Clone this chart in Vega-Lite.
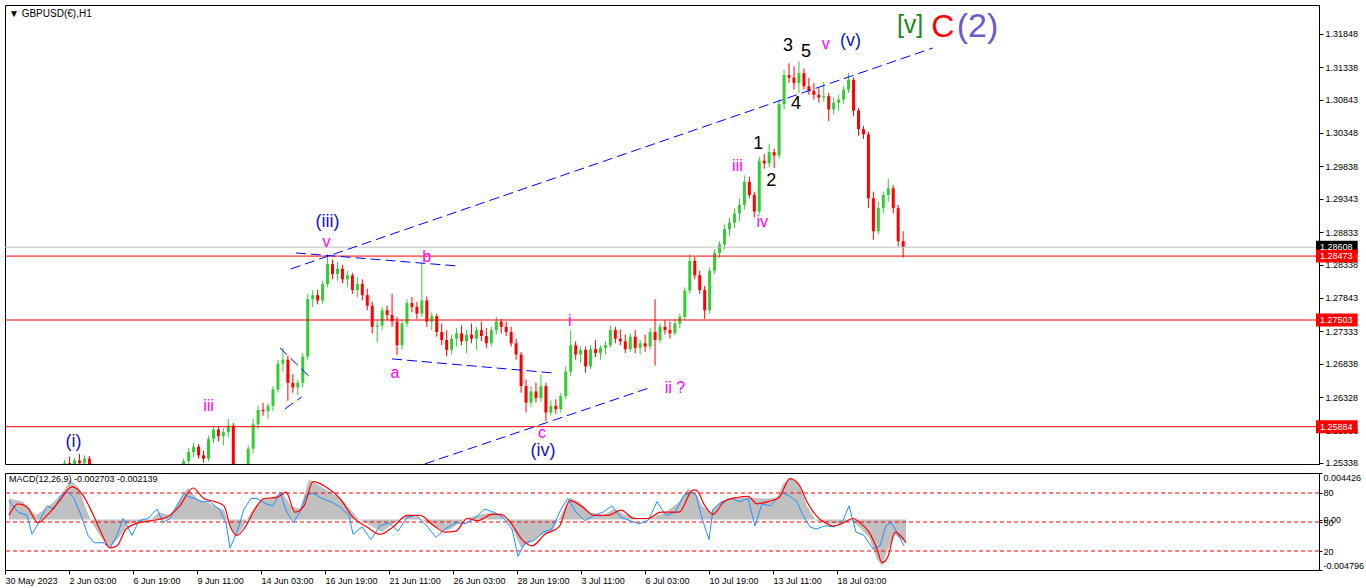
{
"$schema": "https://vega.github.io/schema/vega-lite/v6.json",
"background": "white",
"padding": {"left": 4, "top": 4, "right": 0, "bottom": 0},
"spacing": 3,
"config": {
 "view": {"stroke": "#000", "strokeWidth": 1},
 "axis": {"labelFont": "Liberation Sans", "labelFontSize": 9, "labelColor": "#000", "domainColor": "#000", "tickColor": "#000", "grid": false, "title": null, "labelOverlap": false}
},
"datasets": {
 "candles": [
  {"i":0,"o":1.2490,"h":1.2498,"l":1.2484,"c":1.2494},
  {"i":5,"o":1.2494,"h":1.2503,"l":1.2488,"c":1.2500},
  {"i":10,"o":1.2500,"h":1.2506,"l":1.2490,"c":1.2495},
  {"i":15,"o":1.2495,"h":1.2502,"l":1.2486,"c":1.2490},
  {"i":20,"o":1.2490,"h":1.2499,"l":1.2482,"c":1.2496},
  {"i":25,"o":1.2496,"h":1.2508,"l":1.2492,"c":1.2505},
  {"i":30,"o":1.2505,"h":1.2514,"l":1.2500,"c":1.2510},
  {"i":35,"o":1.2510,"h":1.2518,"l":1.2503,"c":1.2507},
  {"i":40,"o":1.2507,"h":1.2516,"l":1.2500,"c":1.2514},
  {"i":45,"o":1.2514,"h":1.2522,"l":1.2508,"c":1.2519},
  {"i":50,"o":1.2519,"h":1.2527,"l":1.2512,"c":1.2524},
  {"i":55,"o":1.2524,"h":1.2538,"l":1.2518,"c":1.2533},
  {"i":60,"o":1.2533,"h":1.2543,"l":1.2526,"c":1.2530},
  {"i":65,"o":1.2530,"h":1.2541,"l":1.2522,"c":1.2537},
  {"i":70,"o":1.2537,"h":1.2547,"l":1.2528,"c":1.2533},
  {"i":75,"o":1.2533,"h":1.2545,"l":1.2525,"c":1.2540},
  {"i":80,"o":1.2540,"h":1.2544,"l":1.2518,"c":1.2522},
  {"i":85,"o":1.2522,"h":1.2528,"l":1.2505,"c":1.2510},
  {"i":90,"o":1.2510,"h":1.2515,"l":1.2495,"c":1.2500},
  {"i":95,"o":1.2500,"h":1.2506,"l":1.2488,"c":1.2492},
  {"i":100,"o":1.2492,"h":1.2498,"l":1.2478,"c":1.2484},
  {"i":105,"o":1.2484,"h":1.2490,"l":1.2470,"c":1.2476},
  {"i":110,"o":1.2476,"h":1.2484,"l":1.2466,"c":1.2480},
  {"i":115,"o":1.2480,"h":1.2488,"l":1.2470,"c":1.2474},
  {"i":120,"o":1.2474,"h":1.2482,"l":1.2465,"c":1.2478},
  {"i":125,"o":1.2478,"h":1.2490,"l":1.2472,"c":1.2486},
  {"i":130,"o":1.2486,"h":1.2494,"l":1.2478,"c":1.2482},
  {"i":135,"o":1.2482,"h":1.2492,"l":1.2476,"c":1.2488},
  {"i":140,"o":1.2488,"h":1.2498,"l":1.2482,"c":1.2494},
  {"i":145,"o":1.2494,"h":1.2502,"l":1.2486,"c":1.2491},
  {"i":150,"o":1.2491,"h":1.2500,"l":1.2484,"c":1.2497},
  {"i":155,"o":1.2497,"h":1.2508,"l":1.2490,"c":1.2504},
  {"i":160,"o":1.2504,"h":1.2512,"l":1.2496,"c":1.2508},
  {"i":165,"o":1.2508,"h":1.2518,"l":1.2500,"c":1.2514},
  {"i":170,"o":1.2514,"h":1.2524,"l":1.2508,"c":1.2520},
  {"i":175,"o":1.2520,"h":1.2540,"l":1.2516,"c":1.2536},
  {"i":180,"o":1.2536,"h":1.2556,"l":1.2530,"c":1.2550},
  {"i":185,"o":1.2550,"h":1.2564,"l":1.2542,"c":1.2558},
  {"i":190,"o":1.2558,"h":1.2562,"l":1.2540,"c":1.2545},
  {"i":195,"o":1.2545,"h":1.2552,"l":1.2534,"c":1.2540},
  {"i":200,"o":1.2540,"h":1.2575,"l":1.2536,"c":1.2570},
  {"i":205,"o":1.2570,"h":1.2590,"l":1.2564,"c":1.2584},
  {"i":210,"o":1.2584,"h":1.2588,"l":1.2566,"c":1.2574},
  {"i":215,"o":1.2574,"h":1.2586,"l":1.2560,"c":1.2580},
  {"i":220,"o":1.2580,"h":1.2600,"l":1.2572,"c":1.2590},
  {"i":225,"o":1.2590,"h":1.2594,"l":1.2510,"c":1.2518},
  {"i":230,"o":1.2518,"h":1.2525,"l":1.2495,"c":1.2505},
  {"i":235,"o":1.2505,"h":1.2520,"l":1.2498,"c":1.2515},
  {"i":240,"o":1.2515,"h":1.2560,"l":1.2510,"c":1.2555},
  {"i":245,"o":1.2555,"h":1.2600,"l":1.2548,"c":1.2592},
  {"i":250,"o":1.2592,"h":1.2620,"l":1.2585,"c":1.2614},
  {"i":255,"o":1.2614,"h":1.2625,"l":1.2605,"c":1.2612},
  {"i":260,"o":1.2612,"h":1.2624,"l":1.2600,"c":1.2620},
  {"i":265,"o":1.2620,"h":1.2650,"l":1.2612,"c":1.2645},
  {"i":270,"o":1.2645,"h":1.2690,"l":1.2640,"c":1.2684},
  {"i":275,"o":1.2684,"h":1.2708,"l":1.2672,"c":1.2690},
  {"i":280,"o":1.2690,"h":1.2696,"l":1.2628,"c":1.2655},
  {"i":285,"o":1.2655,"h":1.2668,"l":1.2640,"c":1.2648},
  {"i":290,"o":1.2648,"h":1.2660,"l":1.2636,"c":1.2655},
  {"i":295,"o":1.2655,"h":1.2700,"l":1.2648,"c":1.2695},
  {"i":300,"o":1.2695,"h":1.2790,"l":1.2690,"c":1.2782},
  {"i":305,"o":1.2782,"h":1.2795,"l":1.2770,"c":1.2788},
  {"i":310,"o":1.2788,"h":1.2796,"l":1.2774,"c":1.2780},
  {"i":315,"o":1.2780,"h":1.2810,"l":1.2775,"c":1.2805},
  {"i":320,"o":1.2805,"h":1.2850,"l":1.2800,"c":1.2835},
  {"i":325,"o":1.2835,"h":1.2842,"l":1.2812,"c":1.2820},
  {"i":330,"o":1.2820,"h":1.2838,"l":1.2810,"c":1.2828},
  {"i":335,"o":1.2828,"h":1.2834,"l":1.2806,"c":1.2812},
  {"i":340,"o":1.2812,"h":1.2825,"l":1.2800,"c":1.2818},
  {"i":345,"o":1.2818,"h":1.2822,"l":1.2790,"c":1.2796},
  {"i":350,"o":1.2796,"h":1.2815,"l":1.2785,"c":1.2805},
  {"i":355,"o":1.2805,"h":1.2812,"l":1.2780,"c":1.2788},
  {"i":360,"o":1.2788,"h":1.2798,"l":1.2765,"c":1.2772},
  {"i":365,"o":1.2772,"h":1.2778,"l":1.2730,"c":1.2740},
  {"i":370,"o":1.2740,"h":1.2748,"l":1.2716,"c":1.2742},
  {"i":375,"o":1.2742,"h":1.2770,"l":1.2735,"c":1.2765},
  {"i":380,"o":1.2765,"h":1.2772,"l":1.2750,"c":1.2758},
  {"i":385,"o":1.2758,"h":1.2790,"l":1.2740,"c":1.2748},
  {"i":390,"o":1.2748,"h":1.2755,"l":1.2697,"c":1.2712},
  {"i":395,"o":1.2712,"h":1.2750,"l":1.2705,"c":1.2745},
  {"i":400,"o":1.2745,"h":1.2782,"l":1.2740,"c":1.2776},
  {"i":405,"o":1.2776,"h":1.2785,"l":1.2762,"c":1.2770},
  {"i":410,"o":1.2770,"h":1.2778,"l":1.2752,"c":1.2760},
  {"i":415,"o":1.2760,"h":1.2837,"l":1.2755,"c":1.2780},
  {"i":420,"o":1.2780,"h":1.2786,"l":1.2740,"c":1.2748},
  {"i":425,"o":1.2748,"h":1.2762,"l":1.2735,"c":1.2756},
  {"i":430,"o":1.2756,"h":1.2760,"l":1.2725,"c":1.2732},
  {"i":435,"o":1.2732,"h":1.2745,"l":1.2712,"c":1.2720},
  {"i":440,"o":1.2720,"h":1.2735,"l":1.2695,"c":1.2705},
  {"i":445,"o":1.2705,"h":1.2728,"l":1.2698,"c":1.2722},
  {"i":450,"o":1.2722,"h":1.2738,"l":1.2710,"c":1.2730},
  {"i":455,"o":1.2730,"h":1.2742,"l":1.2712,"c":1.2718},
  {"i":460,"o":1.2718,"h":1.2735,"l":1.2700,"c":1.2728},
  {"i":465,"o":1.2728,"h":1.2745,"l":1.2715,"c":1.2722},
  {"i":470,"o":1.2722,"h":1.2740,"l":1.2705,"c":1.2735},
  {"i":475,"o":1.2735,"h":1.2748,"l":1.2718,"c":1.2726},
  {"i":480,"o":1.2726,"h":1.2738,"l":1.2708,"c":1.2715},
  {"i":485,"o":1.2715,"h":1.2740,"l":1.2710,"c":1.2735},
  {"i":490,"o":1.2735,"h":1.2755,"l":1.2728,"c":1.2748},
  {"i":495,"o":1.2748,"h":1.2752,"l":1.2730,"c":1.2740},
  {"i":500,"o":1.2740,"h":1.2748,"l":1.2726,"c":1.2732},
  {"i":505,"o":1.2732,"h":1.2740,"l":1.2710,"c":1.2715},
  {"i":510,"o":1.2715,"h":1.2722,"l":1.2690,"c":1.2698},
  {"i":515,"o":1.2698,"h":1.2702,"l":1.2640,"c":1.2650},
  {"i":520,"o":1.2650,"h":1.2660,"l":1.2610,"c":1.2625},
  {"i":525,"o":1.2625,"h":1.2650,"l":1.2618,"c":1.2642},
  {"i":530,"o":1.2642,"h":1.2655,"l":1.2625,"c":1.2632},
  {"i":535,"o":1.2632,"h":1.2668,"l":1.2626,"c":1.2650},
  {"i":540,"o":1.2650,"h":1.2655,"l":1.2597,"c":1.2610},
  {"i":545,"o":1.2610,"h":1.2628,"l":1.2605,"c":1.2620},
  {"i":550,"o":1.2620,"h":1.2630,"l":1.2608,"c":1.2615},
  {"i":555,"o":1.2615,"h":1.2640,"l":1.2610,"c":1.2635},
  {"i":560,"o":1.2635,"h":1.2680,"l":1.2630,"c":1.2672},
  {"i":565,"o":1.2672,"h":1.2735,"l":1.2665,"c":1.2712},
  {"i":570,"o":1.2712,"h":1.2718,"l":1.2690,"c":1.2698},
  {"i":575,"o":1.2698,"h":1.2710,"l":1.2685,"c":1.2705},
  {"i":580,"o":1.2705,"h":1.2710,"l":1.2670,"c":1.2680},
  {"i":585,"o":1.2680,"h":1.2712,"l":1.2676,"c":1.2706},
  {"i":590,"o":1.2706,"h":1.2720,"l":1.2694,"c":1.2700},
  {"i":595,"o":1.2700,"h":1.2712,"l":1.2690,"c":1.2708},
  {"i":600,"o":1.2708,"h":1.2718,"l":1.2698,"c":1.2712},
  {"i":605,"o":1.2712,"h":1.2742,"l":1.2708,"c":1.2735},
  {"i":610,"o":1.2735,"h":1.2740,"l":1.2715,"c":1.2722},
  {"i":615,"o":1.2722,"h":1.2736,"l":1.2712,"c":1.2718},
  {"i":620,"o":1.2718,"h":1.2728,"l":1.2700,"c":1.2706},
  {"i":625,"o":1.2706,"h":1.2730,"l":1.2702,"c":1.2725},
  {"i":630,"o":1.2725,"h":1.2735,"l":1.2700,"c":1.2708},
  {"i":635,"o":1.2708,"h":1.2720,"l":1.2698,"c":1.2715},
  {"i":640,"o":1.2715,"h":1.2728,"l":1.2702,"c":1.2710},
  {"i":645,"o":1.2710,"h":1.2738,"l":1.2705,"c":1.2732},
  {"i":650,"o":1.2732,"h":1.2782,"l":1.2681,"c":1.2720},
  {"i":655,"o":1.2720,"h":1.2745,"l":1.2715,"c":1.2740},
  {"i":660,"o":1.2740,"h":1.2750,"l":1.2728,"c":1.2735},
  {"i":665,"o":1.2735,"h":1.2748,"l":1.2722,"c":1.2730},
  {"i":670,"o":1.2730,"h":1.2752,"l":1.2728,"c":1.2745},
  {"i":675,"o":1.2745,"h":1.2760,"l":1.2738,"c":1.2755},
  {"i":680,"o":1.2755,"h":1.2800,"l":1.2750,"c":1.2795},
  {"i":685,"o":1.2795,"h":1.2850,"l":1.2790,"c":1.2840},
  {"i":690,"o":1.2840,"h":1.2846,"l":1.2812,"c":1.2818},
  {"i":695,"o":1.2818,"h":1.2825,"l":1.2790,"c":1.2796},
  {"i":700,"o":1.2796,"h":1.2802,"l":1.2752,"c":1.2765},
  {"i":705,"o":1.2765,"h":1.2830,"l":1.2760,"c":1.2825},
  {"i":710,"o":1.2825,"h":1.2858,"l":1.2820,"c":1.2852},
  {"i":715,"o":1.2852,"h":1.2870,"l":1.2845,"c":1.2865},
  {"i":720,"o":1.2865,"h":1.2895,"l":1.2858,"c":1.2888},
  {"i":725,"o":1.2888,"h":1.2905,"l":1.2878,"c":1.2898},
  {"i":730,"o":1.2898,"h":1.2920,"l":1.2890,"c":1.2912},
  {"i":735,"o":1.2912,"h":1.2935,"l":1.2900,"c":1.2925},
  {"i":740,"o":1.2925,"h":1.2970,"l":1.2918,"c":1.2960},
  {"i":745,"o":1.2960,"h":1.2968,"l":1.2935,"c":1.2940},
  {"i":750,"o":1.2940,"h":1.2945,"l":1.2906,"c":1.2915},
  {"i":755,"o":1.2915,"h":1.2998,"l":1.2910,"c":1.2992},
  {"i":760,"o":1.2992,"h":1.3002,"l":1.2980,"c":1.2988},
  {"i":765,"o":1.2988,"h":1.3018,"l":1.2982,"c":1.3005},
  {"i":770,"o":1.3005,"h":1.3010,"l":1.2981,"c":1.3000},
  {"i":775,"o":1.3000,"h":1.3085,"l":1.2995,"c":1.3078},
  {"i":780,"o":1.3078,"h":1.3130,"l":1.3070,"c":1.3122},
  {"i":785,"o":1.3122,"h":1.3140,"l":1.3110,"c":1.3118},
  {"i":790,"o":1.3118,"h":1.3135,"l":1.3100,"c":1.3110},
  {"i":795,"o":1.3110,"h":1.3143,"l":1.3095,"c":1.3125},
  {"i":800,"o":1.3125,"h":1.3132,"l":1.3100,"c":1.3105},
  {"i":805,"o":1.3105,"h":1.3118,"l":1.3092,"c":1.3098},
  {"i":810,"o":1.3098,"h":1.3110,"l":1.3085,"c":1.3092},
  {"i":815,"o":1.3092,"h":1.3102,"l":1.3080,"c":1.3088},
  {"i":820,"o":1.3088,"h":1.3112,"l":1.3082,"c":1.3090},
  {"i":825,"o":1.3090,"h":1.3095,"l":1.3052,"c":1.3070},
  {"i":830,"o":1.3070,"h":1.3088,"l":1.3062,"c":1.3080},
  {"i":835,"o":1.3080,"h":1.3092,"l":1.3068,"c":1.3085},
  {"i":840,"o":1.3085,"h":1.3105,"l":1.3078,"c":1.3100},
  {"i":845,"o":1.3100,"h":1.3125,"l":1.3095,"c":1.3115},
  {"i":850,"o":1.3115,"h":1.3118,"l":1.3060,"c":1.3068},
  {"i":855,"o":1.3068,"h":1.3072,"l":1.3030,"c":1.3040},
  {"i":860,"o":1.3040,"h":1.3045,"l":1.3025,"c":1.3032},
  {"i":865,"o":1.3032,"h":1.3036,"l":1.2920,"c":1.2935},
  {"i":870,"o":1.2935,"h":1.2945,"l":1.2872,"c":1.2885},
  {"i":875,"o":1.2885,"h":1.2930,"l":1.2880,"c":1.2920},
  {"i":880,"o":1.2920,"h":1.2945,"l":1.2912,"c":1.2940},
  {"i":885,"o":1.2940,"h":1.2965,"l":1.2930,"c":1.2950},
  {"i":890,"o":1.2950,"h":1.2955,"l":1.2912,"c":1.2920},
  {"i":895,"o":1.2920,"h":1.2925,"l":1.2862,"c":1.2870},
  {"i":900,"o":1.2870,"h":1.2885,"l":1.2845,"c":1.2861}
 ],
 "levels": [
  {"p":1.28608,"k":"cur"},
  {"p":1.28473,"k":"red"},
  {"p":1.27503,"k":"red"},
  {"p":1.25884,"k":"red"}
 ],
 "trend": [
  {"i1":283,"p1":1.28278,"i2":930,"p2":1.31631},
  {"i1":418,"p1":1.25320,"i2":647,"p2":1.26488},
  {"i1":288,"p1":1.28521,"i2":450,"p2":1.28324},
  {"i1":385,"p1":1.26913,"i2":547,"p2":1.26700},
  {"i1":272,"p1":1.27080,"i2":303,"p2":1.26625},
  {"i1":277,"p1":1.26154,"i2":294,"p2":1.26336}
 ],
 "waves": [
  {"i":64,"p":1.25654,"t":"(i)","k":"navy"},
  {"i":200,"p":1.26200,"t":"iii","k":"pink"},
  {"i":320,"p":1.28991,"t":"(iii)","k":"navy"},
  {"i":319,"p":1.28688,"t":"v","k":"pink"},
  {"i":420,"p":1.28460,"t":"b","k":"pink"},
  {"i":388,"p":1.26700,"t":"a","k":"pink"},
  {"i":564,"p":1.27489,"t":"i","k":"pink"},
  {"i":670,"p":1.26473,"t":"ii ?","k":"pink"},
  {"i":536,"p":1.25790,"t":"c","k":"pink"},
  {"i":537,"p":1.25510,"t":"(iv)","k":"navy"},
  {"i":733,"p":1.29841,"t":"iii","k":"pink"},
  {"i":758,"p":1.28991,"t":"iv","k":"pink"},
  {"i":754,"p":1.30174,"t":"1","k":"black"},
  {"i":767,"p":1.29613,"t":"2","k":"black"},
  {"i":784,"p":1.31661,"t":"3","k":"black"},
  {"i":802,"p":1.31570,"t":"5","k":"black"},
  {"i":792,"p":1.30781,"t":"4","k":"black"},
  {"i":822,"p":1.31691,"t":"v","k":"pink"},
  {"i":847,"p":1.31737,"t":"(v)","k":"navy"},
  {"i":907,"p":1.31980,"t":"[v]","k":"green"},
  {"i":940,"p":1.31949,"t":"C","k":"red"},
  {"i":975,"p":1.31949,"t":"(2)","k":"purple"}
 ],
 "hist": [
  {"i":4,"v":0.0020},{"i":18,"v":0.0017},{"i":31,"v":0.0004},{"i":40,"v":0.0010},{"i":49,"v":0.0017},{"i":58,"v":0.0026},{"i":65,"v":0.0038},{"i":74,"v":0.0030},{"i":80,"v":0.0013},{"i":87,"v":-0.0003},{"i":96,"v":-0.0017},{"i":105,"v":-0.0027},{"i":114,"v":-0.0017},{"i":123,"v":-0.0004},{"i":134,"v":-0.0003},{"i":145,"v":-0.0001},{"i":154,"v":0.0007},{"i":165,"v":0.0004},{"i":176,"v":0.0021},{"i":183,"v":0.0030},{"i":192,"v":0.0020},{"i":205,"v":0.0015},{"i":219,"v":0.0009},{"i":225,"v":-0.0007},{"i":230,"v":-0.0017},{"i":237,"v":-0.0009},{"i":246,"v":0.0007},{"i":257,"v":0.0020},{"i":268,"v":0.0021},{"i":277,"v":0.0026},{"i":286,"v":0.0013},{"i":295,"v":0.0010},{"i":304,"v":0.0038},{"i":313,"v":0.0033},{"i":326,"v":0.0026},{"i":339,"v":0.0017},{"i":353,"v":0.0001},{"i":366,"v":-0.0006},{"i":377,"v":-0.0012},{"i":388,"v":-0.0004},{"i":402,"v":0.0004},{"i":413,"v":0.0002},{"i":424,"v":-0.0004},{"i":438,"v":-0.0011},{"i":446,"v":-0.0009},{"i":460,"v":0.0001},{"i":473,"v":0.0004},{"i":487,"v":0.0007},{"i":496,"v":0.0005},{"i":507,"v":-0.0007},{"i":516,"v":-0.0027},{"i":525,"v":-0.0022},{"i":536,"v":-0.0015},{"i":547,"v":-0.0011},{"i":556,"v":0.0004},{"i":565,"v":0.0021},{"i":574,"v":0.0017},{"i":585,"v":0.0007},{"i":598,"v":0.0004},{"i":609,"v":0.0010},{"i":621,"v":0.0004},{"i":634,"v":0.0001},{"i":647,"v":0.0002},{"i":661,"v":0.0007},{"i":674,"v":0.0017},{"i":683,"v":0.0030},{"i":692,"v":0.0023},{"i":697,"v":0.0013},{"i":706,"v":0.0007},{"i":715,"v":0.0017},{"i":724,"v":0.0020},{"i":737,"v":0.0021},{"i":746,"v":0.0021},{"i":754,"v":0.0020},{"i":763,"v":0.0020},{"i":772,"v":0.0021},{"i":778,"v":0.0034},{"i":785,"v":0.0040},{"i":794,"v":0.0033},{"i":802,"v":0.0013},{"i":811,"v":-0.0001},{"i":824,"v":-0.0004},{"i":837,"v":-0.0004},{"i":846,"v":-0.0001},{"i":853,"v":-0.0006},{"i":864,"v":-0.0017},{"i":872,"v":-0.0038},{"i":877,"v":-0.0044},{"i":883,"v":-0.0028},{"i":890,"v":-0.0015},{"i":897,"v":-0.0019},{"i":901,"v":-0.0022}
 ],
 "sig": [
  {"i":4,"v":0.0004},{"i":13,"v":0.0015},{"i":22,"v":0.0012},{"i":33,"v":-0.0003},{"i":42,"v":0.0004},{"i":54,"v":0.0017},{"i":67,"v":0.0031},{"i":78,"v":0.0023},{"i":87,"v":0.0007},{"i":96,"v":-0.0012},{"i":105,"v":-0.0027},{"i":112,"v":-0.0025},{"i":121,"v":-0.0009},{"i":134,"v":-0.0003},{"i":147,"v":-0.0001},{"i":161,"v":0.0002},{"i":174,"v":0.0012},{"i":188,"v":0.0030},{"i":199,"v":0.0020},{"i":210,"v":0.0017},{"i":219,"v":0.0013},{"i":225,"v":-0.0006},{"i":232,"v":-0.0015},{"i":241,"v":-0.0006},{"i":250,"v":0.0010},{"i":259,"v":0.0020},{"i":272,"v":0.0021},{"i":281,"v":0.0026},{"i":290,"v":0.0007},{"i":299,"v":0.0013},{"i":308,"v":0.0036},{"i":321,"v":0.0031},{"i":335,"v":0.0020},{"i":348,"v":0.0002},{"i":362,"v":-0.0007},{"i":375,"v":-0.0014},{"i":388,"v":-0.0007},{"i":402,"v":0.0004},{"i":415,"v":0.0004},{"i":429,"v":-0.0006},{"i":440,"v":-0.0012},{"i":451,"v":-0.0011},{"i":462,"v":0.0001},{"i":473,"v":-0.0001},{"i":487,"v":0.0005},{"i":496,"v":0.0005},{"i":504,"v":-0.0001},{"i":518,"v":-0.0020},{"i":527,"v":-0.0025},{"i":540,"v":-0.0014},{"i":554,"v":-0.0007},{"i":565,"v":0.0018},{"i":576,"v":0.0013},{"i":589,"v":0.0004},{"i":603,"v":0.0004},{"i":616,"v":0.0009},{"i":629,"v":0.0001},{"i":643,"v":0.0001},{"i":656,"v":0.0007},{"i":674,"v":0.0007},{"i":688,"v":0.0028},{"i":691,"v":0.0028},{"i":700,"v":0.0013},{"i":708,"v":0.0005},{"i":719,"v":0.0017},{"i":732,"v":0.0021},{"i":743,"v":0.0022},{"i":752,"v":0.0015},{"i":763,"v":0.0017},{"i":774,"v":0.0021},{"i":785,"v":0.0039},{"i":794,"v":0.0033},{"i":802,"v":0.0017},{"i":811,"v":0.0004},{"i":820,"v":-0.0003},{"i":829,"v":-0.0006},{"i":837,"v":-0.0004},{"i":848,"v":0.0001},{"i":855,"v":-0.0003},{"i":864,"v":-0.0012},{"i":872,"v":-0.0028},{"i":877,"v":-0.0041},{"i":883,"v":-0.0035},{"i":890,"v":-0.0012},{"i":894,"v":-0.0014},{"i":901,"v":-0.0022}
 ],
 "blu": [
  {"i":4,"v":0.0018},{"i":13,"v":0.0007},{"i":22,"v":0.0004},{"i":27,"v":-0.0014},{"i":33,"v":-0.0004},{"i":42,"v":0.0013},{"i":49,"v":0.0010},{"i":56,"v":0.0023},{"i":63,"v":0.0026},{"i":69,"v":0.0020},{"i":76,"v":0.0004},{"i":83,"v":-0.0015},{"i":89,"v":-0.0022},{"i":98,"v":-0.0022},{"i":105,"v":-0.0027},{"i":112,"v":-0.0015},{"i":118,"v":0.0001},{"i":127,"v":-0.0015},{"i":134,"v":-0.0001},{"i":143,"v":0.0001},{"i":152,"v":0.0010},{"i":158,"v":-0.0003},{"i":165,"v":0.0001},{"i":172,"v":0.0013},{"i":179,"v":0.0025},{"i":183,"v":0.0022},{"i":190,"v":0.0020},{"i":196,"v":0.0017},{"i":205,"v":0.0017},{"i":214,"v":0.0010},{"i":221,"v":-0.0003},{"i":225,"v":-0.0027},{"i":232,"v":-0.0012},{"i":239,"v":0.0010},{"i":246,"v":0.0020},{"i":252,"v":0.0020},{"i":261,"v":0.0015},{"i":268,"v":0.0013},{"i":275,"v":0.0026},{"i":281,"v":0.0009},{"i":288,"v":-0.0003},{"i":295,"v":0.0007},{"i":301,"v":0.0023},{"i":308,"v":0.0025},{"i":317,"v":0.0020},{"i":326,"v":0.0017},{"i":335,"v":0.0012},{"i":344,"v":0.0004},{"i":348,"v":-0.0014},{"i":357,"v":-0.0007},{"i":366,"v":-0.0019},{"i":375,"v":-0.0006},{"i":384,"v":-0.0003},{"i":393,"v":-0.0011},{"i":402,"v":0.0002},{"i":411,"v":0.0004},{"i":420,"v":-0.0004},{"i":431,"v":-0.0017},{"i":440,"v":-0.0009},{"i":451,"v":-0.0003},{"i":460,"v":-0.0004},{"i":469,"v":0.0001},{"i":480,"v":0.0010},{"i":489,"v":0.0007},{"i":498,"v":0.0002},{"i":507,"v":-0.0009},{"i":513,"v":-0.0035},{"i":520,"v":-0.0022},{"i":529,"v":-0.0020},{"i":538,"v":-0.0012},{"i":547,"v":-0.0009},{"i":556,"v":0.0010},{"i":563,"v":0.0020},{"i":571,"v":0.0007},{"i":580,"v":-0.0001},{"i":589,"v":0.0004},{"i":598,"v":0.0007},{"i":607,"v":0.0013},{"i":616,"v":0.0002},{"i":625,"v":-0.0001},{"i":634,"v":-0.0004},{"i":643,"v":-0.0001},{"i":652,"v":0.0017},{"i":661,"v":0.0004},{"i":670,"v":0.0007},{"i":679,"v":0.0023},{"i":688,"v":0.0026},{"i":691,"v":0.0023},{"i":697,"v":0.0001},{"i":704,"v":-0.0019},{"i":708,"v":0.0010},{"i":717,"v":0.0017},{"i":726,"v":0.0020},{"i":735,"v":0.0017},{"i":743,"v":0.0020},{"i":750,"v":-0.0006},{"i":757,"v":0.0015},{"i":765,"v":0.0013},{"i":772,"v":0.0020},{"i":778,"v":0.0025},{"i":785,"v":0.0022},{"i":792,"v":0.0017},{"i":798,"v":0.0004},{"i":805,"v":-0.0007},{"i":811,"v":-0.0009},{"i":820,"v":-0.0006},{"i":829,"v":-0.0007},{"i":837,"v":-0.0003},{"i":844,"v":0.0013},{"i":851,"v":-0.0012},{"i":859,"v":-0.0015},{"i":868,"v":-0.0028},{"i":875,"v":-0.0025},{"i":881,"v":-0.0006},{"i":886,"v":-0.0003},{"i":892,"v":-0.0012},{"i":899,"v":-0.0025}
 ],
 "mlev": [{"v":0.002525},{"v":-0.000233},{"v":-0.00299}]
},
"vconcat": [
 {
  "width": 1314,
  "height": 459,
  "title": {"text": "▼ GBPUSD(€),H1", "anchor": "start", "frame": "group", "offset": -14, "dx": 4, "fontSize": 10, "fontWeight": "normal", "font": "Liberation Sans", "color": "#000"},
  "layer": [
   {
    "data": {"name": "candles"},
    "mark": {"type": "rule", "clip": true, "strokeWidth": 1},
    "encoding": {
     "x": {"field": "i", "type": "quantitative", "scale": {"domain": [0, 1314], "nice": false, "zero": false}, "axis": null},
     "y": {"field": "l", "type": "quantitative", "scale": {"domain": [1.25318, 1.32283], "nice": false, "zero": false},
      "axis": {"orient": "right", "values": [1.31848, 1.31338, 1.30843, 1.30348, 1.29838, 1.29343, 1.28833, 1.28338, 1.27843, 1.27333, 1.26838, 1.26328, 1.25833, 1.25338], "tickCount": 100, "format": ".5f", "tickSize": 4, "labelPadding": 2, "labelOverlap": false}},
     "y2": {"field": "h"},
     "color": {"condition": {"test": "datum.c >= datum.o", "value": "#32cd32"}, "value": "#ff0000"}
    }
   },
   {
    "data": {"name": "candles"},
    "mark": {"type": "bar", "clip": true, "width": 3},
    "encoding": {
     "x": {"field": "i", "type": "quantitative"},
     "y": {"field": "o", "type": "quantitative"},
     "y2": {"field": "c"},
     "color": {"condition": {"test": "datum.c >= datum.o", "value": "#32cd32"}, "value": "#ff0000"}
    }
   },
   {
    "data": {"name": "levels"},
    "mark": {"type": "rule", "strokeWidth": 1},
    "encoding": {
     "y": {"field": "p", "type": "quantitative"},
     "color": {"field": "k", "type": "nominal", "scale": {"domain": ["cur", "red"], "range": ["#c0c0c0", "#ff0000"]}, "legend": null}
    }
   },
   {
    "data": {"name": "trend"},
    "mark": {"type": "rule", "color": "#0000ff", "strokeWidth": 1, "strokeDash": [10, 5], "clip": true},
    "encoding": {
     "x": {"field": "i1", "type": "quantitative"},
     "x2": {"field": "i2"},
     "y": {"field": "p1", "type": "quantitative"},
     "y2": {"field": "p2"}
    }
   },
   {
    "data": {"name": "waves"},
    "transform": [{"filter": "datum.k == 'pink'"}],
    "mark": {"type": "text", "font": "Liberation Sans", "align": "center", "baseline": "middle", "fontSize": 16, "color": "#ff00ff"},
    "encoding": {"x": {"field": "i", "type": "quantitative"}, "y": {"field": "p", "type": "quantitative"}, "text": {"field": "t"}}
   },
   {
    "data": {"name": "waves"},
    "transform": [{"filter": "datum.k == 'navy'"}],
    "mark": {"type": "text", "font": "Liberation Sans", "align": "center", "baseline": "middle", "fontSize": 18, "color": "#1414b4"},
    "encoding": {"x": {"field": "i", "type": "quantitative"}, "y": {"field": "p", "type": "quantitative"}, "text": {"field": "t"}}
   },
   {
    "data": {"name": "waves"},
    "transform": [{"filter": "datum.k == 'black'"}],
    "mark": {"type": "text", "font": "Liberation Sans", "align": "center", "baseline": "middle", "fontSize": 18, "color": "#000000"},
    "encoding": {"x": {"field": "i", "type": "quantitative"}, "y": {"field": "p", "type": "quantitative"}, "text": {"field": "t"}}
   },
   {
    "data": {"name": "waves"},
    "transform": [{"filter": "datum.k == 'green'"}],
    "mark": {"type": "text", "font": "Liberation Sans", "align": "center", "baseline": "middle", "fontSize": 25, "color": "#1a8a1a"},
    "encoding": {"x": {"field": "i", "type": "quantitative"}, "y": {"field": "p", "type": "quantitative"}, "text": {"field": "t"}}
   },
   {
    "data": {"name": "waves"},
    "transform": [{"filter": "datum.k == 'red'"}],
    "mark": {"type": "text", "font": "Liberation Sans", "align": "center", "baseline": "middle", "fontSize": 32, "color": "#ff0000"},
    "encoding": {"x": {"field": "i", "type": "quantitative"}, "y": {"field": "p", "type": "quantitative"}, "text": {"field": "t"}}
   },
   {
    "data": {"name": "waves"},
    "transform": [{"filter": "datum.k == 'purple'"}],
    "mark": {"type": "text", "font": "Liberation Sans", "align": "center", "baseline": "middle", "fontSize": 34, "color": "#6a5acd"},
    "encoding": {"x": {"field": "i", "type": "quantitative"}, "y": {"field": "p", "type": "quantitative"}, "text": {"field": "t"}}
   },
   {
    "data": {"name": "levels"},
    "mark": {"type": "rule", "strokeWidth": 13, "strokeCap": "butt"},
    "encoding": {
     "x": {"datum": 1316},
     "x2": {"datum": 1358},
     "y": {"field": "p", "type": "quantitative"},
     "color": {"field": "k", "type": "nominal", "scale": {"domain": ["cur", "red"], "range": ["#000000", "#ff0000"]}, "legend": null}
    }
   },
   {
    "data": {"name": "levels"},
    "mark": {"type": "text", "align": "left", "baseline": "middle", "color": "#ffffff", "font": "Liberation Sans", "fontSize": 9},
    "encoding": {
     "x": {"datum": 1320},
     "y": {"field": "p", "type": "quantitative"},
     "text": {"field": "p", "type": "quantitative", "format": ".5f"}
    }
   }
  ],
  "resolve": {"scale": {"color": "independent"}}
 },
 {
  "width": 1314,
  "height": 97,
  "title": {"text": "MACD(12,26,9) -0.002703 -0.002139", "anchor": "start", "frame": "group", "offset": -11, "dx": 4, "fontSize": 9, "fontWeight": "normal", "font": "Liberation Sans", "color": "#000"},
  "layer": [
   {
    "data": {"name": "hist"},
    "mark": {"type": "area", "color": "#c0c0c0"},
    "encoding": {
     "x": {"field": "i", "type": "quantitative", "scale": {"domain": [0, 1314], "nice": false, "zero": false},
      "axis": {"values": [0, 64, 128, 192, 256, 320, 384, 448, 512, 576, 640, 704, 768, 832], "tickCount": 100, "labelExpr": "['30 May 2023','2 Jun 03:00','6 Jun 19:00','9 Jun 11:00','14 Jun 03:00','16 Jun 19:00','21 Jun 11:00','26 Jun 03:00','28 Jun 19:00','3 Jul 11:00','6 Jul 03:00','10 Jul 19:00','13 Jul 11:00','18 Jul 03:00'][round(datum.value/64)]", "labelAlign": "left", "tickSize": 4, "labelPadding": 2, "labelOverlap": false}},
     "y": {"field": "v", "type": "quantitative", "scale": {"domain": [-0.004796, 0.004426], "nice": false, "zero": false},
      "axis": {"orient": "right", "values": [0.004426, 0.002525, 0, -0.000233, -0.00299, -0.004796], "tickCount": 100, "labelExpr": "datum.value > 0.004 ? '0.004426' : datum.value > 0.002 ? '80' : datum.value > -0.0001 ? '0.00' : datum.value > -0.001 ? '50' : datum.value > -0.004 ? '20' : '-0.004796'", "labelOverlap": false, "labelFlush": true, "tickSize": 3, "labelPadding": 1}},
     "y2": {"datum": 0}
    }
   },
   {
    "data": {"name": "mlev"},
    "mark": {"type": "rule", "color": "#ff0000", "strokeDash": [4, 3], "strokeWidth": 1},
    "encoding": {"y": {"field": "v", "type": "quantitative"}}
   },
   {
    "data": {"name": "blu"},
    "mark": {"type": "line", "color": "#1e90ff", "strokeWidth": 1},
    "encoding": {"x": {"field": "i", "type": "quantitative"}, "y": {"field": "v", "type": "quantitative"}}
   },
   {
    "data": {"name": "sig"},
    "mark": {"type": "line", "color": "#ff0000", "strokeWidth": 1.2, "interpolate": "monotone"},
    "encoding": {"x": {"field": "i", "type": "quantitative"}, "y": {"field": "v", "type": "quantitative"}}
   }
  ]
 }
]
}
